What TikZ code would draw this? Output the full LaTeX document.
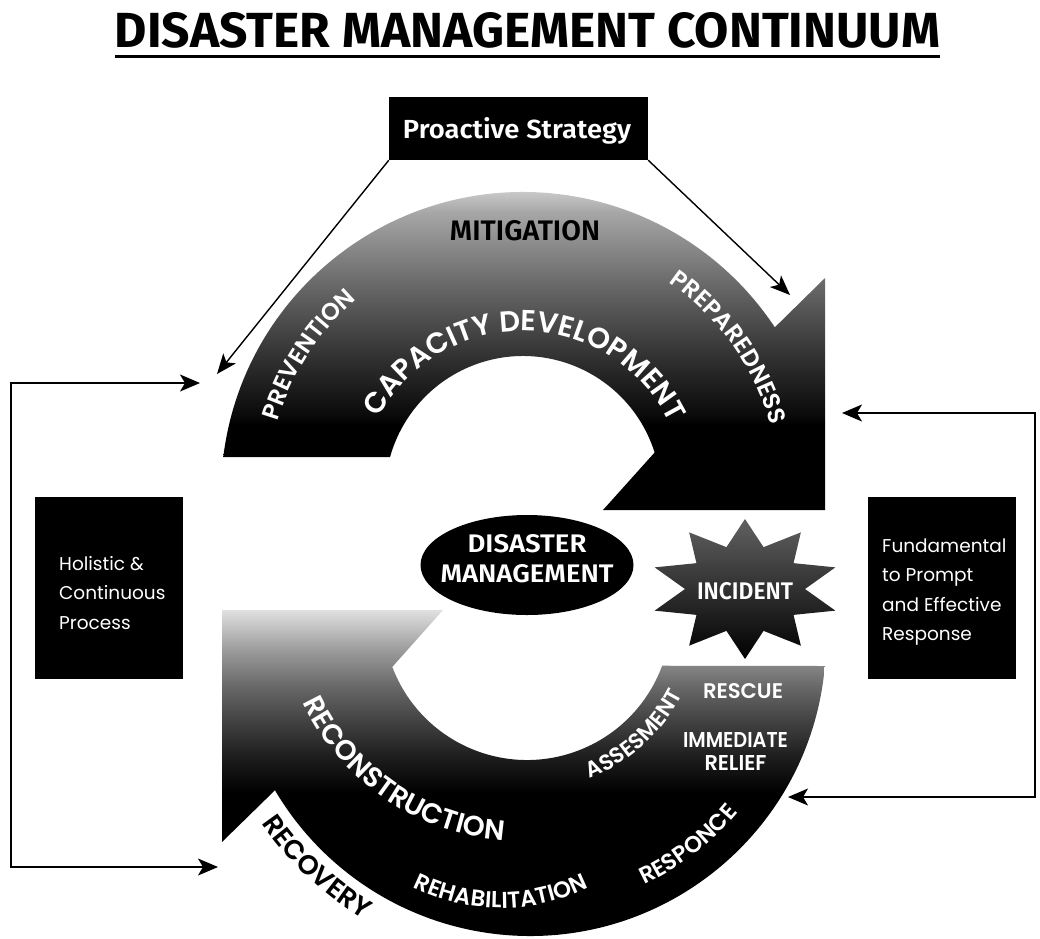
\documentclass[tikz,border=0pt]{standalone}
\usepackage{fontspec}
\usetikzlibrary{arrows.meta,decorations.text,shapes.geometric,calc}
\newfontfamily\popsb{Poppins SemiBold}
\newfontfamily\poprg{Poppins}
\newfontfamily\firasb{Fira Sans SemiBold}
\newfontfamily\firabd{Fira Sans Bold}

\pgfdeclareverticalshading{topgrad}{100bp}{color(0bp)=(black); color(37.6bp)=(black); color(39.2bp)=(black!96); color(47.1bp)=(black!82); color(58.1bp)=(black!60); color(69.2bp)=(black!35); color(75bp)=(black!10); color(100bp)=(black!10)}
\pgfdeclareverticalshading{botgrad}{100bp}{color(0bp)=(black); color(48bp)=(black); color(53.5bp)=(black!88); color(58bp)=(black!76); color(63.5bp)=(black!60); color(68.9bp)=(black!40); color(75bp)=(black!12); color(100bp)=(black!12)}

\tikzset{
  blackbox/.style={fill=black, inner sep=0pt},
  conn/.style={line width=1.4pt, -{Stealth[length=20pt,width=16pt,inset=5pt]}},
  bracket/.style={line width=1.5pt, {Stealth[length=20pt,width=17pt,inset=5pt]}-{Stealth[length=20pt,width=17pt,inset=5pt]}},
  fitlabel/.style={inner sep=0pt, anchor=base},
  arctext/.style={decorate, decoration={text along path, text align=center, text color=#1}},
  sidetext/.style={anchor=west, inner sep=0pt, text=white, align=left, font=\poprg\fontsize{18.5}{29.5}\selectfont}
}

\begin{document}
\begin{tikzpicture}[x=1pt,y=-1pt]
\useasboundingbox (0,0) rectangle (1040,938);
\fill[white] (0,0) rectangle (1040,938);

% title
\node[fitlabel] (title) at (527.5,47) {\resizebox{825pt}{35pt}{\firabd DISASTER MANAGEMENT CONTINUUM}};
\draw[line width=3pt] ([yshift=-9pt]title.base west) -- ([yshift=-9pt]title.base east);

% centres
\coordinate (O1) at (523,494);
\coordinate (O2) at (530,640);
\coordinate (I2) at (527,616);
\coordinate (C3) at (521,600);
\coordinate (C4) at (501,710);

% top circular arrow
\shade[shading=topgrad] ($(O1)+(187:302)$) arc[start angle=187, end angle=326.5, radius=302]
  -- (825,278) -- (825,510) -- (603,510) -- ($(O1)+(342.5:138)$)
  arc[start angle=342.5, end angle=195.5, radius=138] -- cycle;

% bottom circular arrow
\shade[shading=botgrad] (222,610) -- (443,610) -- ($(I2)+(159.3:144)$)
  arc[start angle=159.3, end angle=20.2, radius=144] -- ($(O2)+(5.04:296)$)
  arc[start angle=5.04, end angle=149.5, radius=296] -- (222,842) -- cycle;

% proactive strategy
\node[blackbox, minimum width=259pt, minimum height=63pt] (ps) at (518.5,128.5) {};
\node[fitlabel, text=white] (pslabel) at (517,138) {\resizebox{228pt}{21pt}{\firasb Proactive Strategy}};
\coordinate (pvtip) at (217,374);
\coordinate (prtip) at (790,295);
\draw[conn] (ps.south west) -- (pvtip);
\draw[conn] (ps.south east) -- (prtip);

% labels on top arrow
\node[fitlabel] (mit) at (525,240) {\resizebox{150pt}{20pt}{\firasb MITIGATION}};
\path[arctext=white, decoration={text={|\popsb\fontsize{24}{24}\selectfont|PREVENTION}}]
  ($(O1)+(183:256)$) arc[start angle=183, end angle=243, radius=256];
\path[arctext=white, decoration={text={|\popsb\fontsize{29}{29}\selectfont|CAPACITY DEVELOPMENT}}]
  ($(O1)+(195:163)$) arc[start angle=195, end angle=347, radius=163];
\path[arctext=white, decoration={text={|\popsb\fontsize{24}{24}\selectfont|PREPAREDNESS}}]
  ($(O1)+(299.5:257)$) arc[start angle=299.5, end angle=349.5, radius=257];

% labels on bottom arrow
\path[arctext=white, decoration={text={|\popsb\fontsize{28}{28}\selectfont|RECONSTRUCTION}}]
  ($(C3)+(159.5:241)$) arc[start angle=159.5, end angle=89.5, radius=241];
\path[arctext=white, decoration={text={|\popsb\fontsize{23}{23}\selectfont|REHABILITATION}}]
  ($(C4)+(125:198)$) arc[start angle=125, end angle=55, radius=198];
\path[arctext=white, decoration={text={|\popsb\fontsize{23}{23}\selectfont|RESPONCE}}]
  ($(O2)+(67.3:270)$) arc[start angle=67.3, end angle=37.3, radius=270];
\path[arctext=white, decoration={text={|\popsb\fontsize{22}{22}\selectfont|ASSESMENT}}]
  ($(I2)+(73:174)$) arc[start angle=73, end angle=22.6, radius=174];
\path[arctext=black, decoration={text={|\popsb\fontsize{27}{27}\selectfont|RECOVERY}}]
  ($(O2)+(148.2:325)$) arc[start angle=148.2, end angle=118.2, radius=325];
\node[fitlabel, text=white] (rescue) at (743,698) {\resizebox{80pt}{15pt}{\popsb RESCUE}};
\node[inner sep=0pt, text=white, align=center, font=\fontsize{15}{23}\selectfont] (relief) at (735.5,751)
  {\resizebox{105pt}{15pt}{\popsb IMMEDIATE}\\\resizebox{62pt}{15pt}{\popsb RELIEF}};

% disaster management ellipse
\node[ellipse, fill=black, minimum width=213pt, minimum height=100pt, inner sep=0pt] (dmshape) at (527,565) {};
\node[inner sep=0pt, text=white, align=center, font=\fontsize{18}{30}\selectfont] (dm) at (527,559)
  {\resizebox{119pt}{18pt}{\firasb DISASTER}\\\resizebox{173pt}{18pt}{\firasb MANAGEMENT}};

% incident star
\coordinate (starc) at (745,589);
\shade[top color=black!62, bottom color=black] ($(starc)+(270:95 and 70)$)
  \foreach \a in {270,306,342,378,414,450,486,522,558,594} {
    -- ($(starc)+({\a+18}:60 and 44)$) -- ($(starc)+({\a+36}:95 and 70)$) } -- cycle;
\node[fitlabel, text=white] (inc) at (745,599) {\resizebox{96pt}{17pt}{\firasb INCIDENT}};

% side boxes
\node[blackbox, minimum width=148pt, minimum height=182pt] (holbox) at (109,588) {};
\node[sidetext] (holtext) at (59,593) {Holistic \&\\Continuous\\Process};
\node[blackbox, minimum width=148pt, minimum height=182pt] (fundbox) at (942,588) {};
\node[sidetext] (fundtext) at (882,592) {Fundamental\\to Prompt\\and Effective\\Response};

% brackets
\coordinate (ltop) at (200,383);
\coordinate (lbot) at (218,867);
\coordinate (lx) at (11,600);
\draw[bracket] (ltop) -- (ltop -| lx) -- (lbot -| lx) -- (lbot);
\coordinate (rtop) at (842,413);
\coordinate (rbot) at (788,797);
\coordinate (rx) at (1035,600);
\draw[bracket] (rtop) -- (rtop -| rx) -- (rbot -| rx) -- (rbot);
\end{tikzpicture}
\end{document}
